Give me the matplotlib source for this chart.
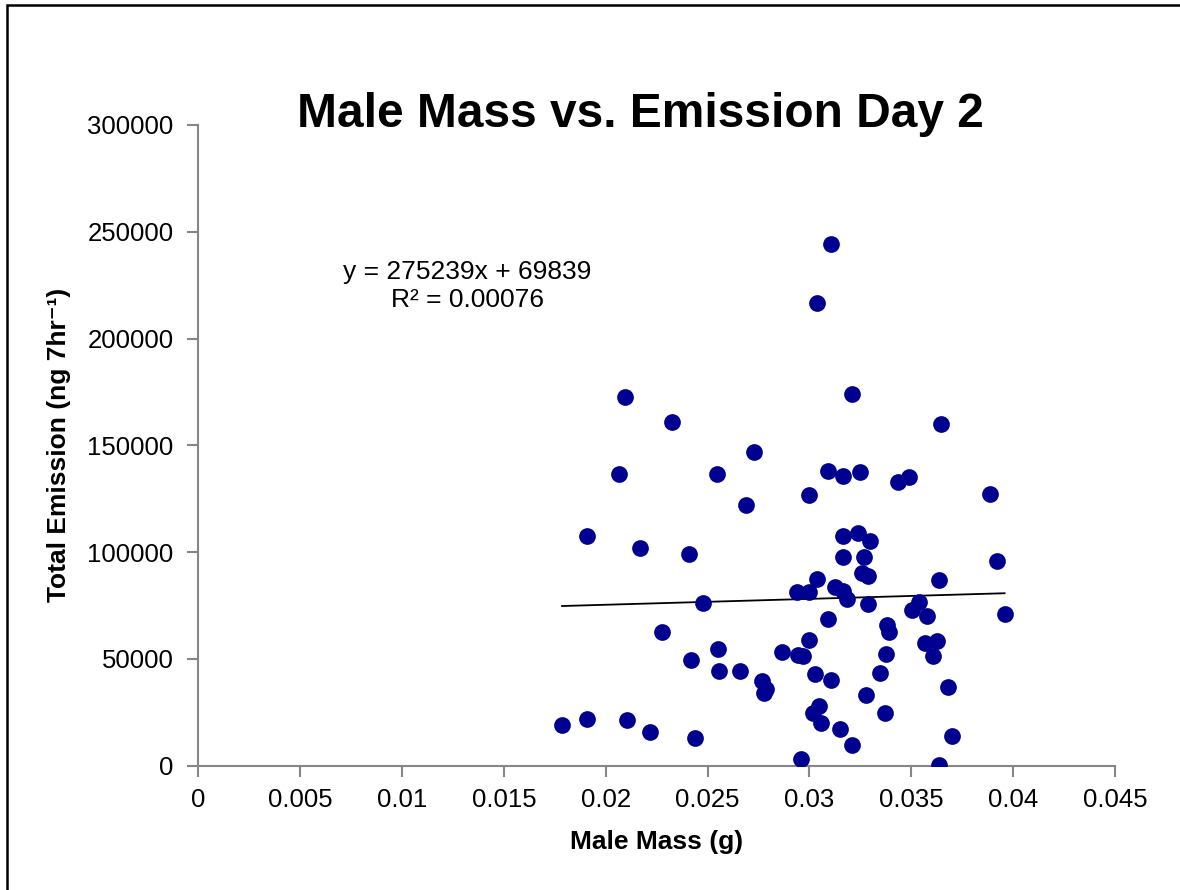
import matplotlib
matplotlib.use('Agg')
import matplotlib.pyplot as plt
from matplotlib.patches import Rectangle
import numpy as np

# Male mass (g) and total emission (ng 7hr-1)
male_mass = [
    0.01785, 0.01907, 0.01907, 0.02096, 0.02066, 0.02105, 0.02168, 0.02215,
    0.02277, 0.02325, 0.02407, 0.02417, 0.02438, 0.02476, 0.02547, 0.02549,
    0.02557, 0.02657, 0.02687, 0.02727, 0.02768, 0.02777, 0.02785, 0.02866,
    0.02937, 0.02945, 0.02957, 0.02970, 0.02998, 0.02998, 0.02999, 0.03016,
    0.03025, 0.03038, 0.03038, 0.03048, 0.03058, 0.03089, 0.03089, 0.03107,
    0.03107, 0.03124, 0.03148, 0.03166, 0.03166, 0.03166, 0.03166, 0.03186,
    0.03209, 0.03209, 0.03240, 0.03248, 0.03256, 0.03268, 0.03277, 0.03287,
    0.03289, 0.03295, 0.03346, 0.03369, 0.03377, 0.03379, 0.03389, 0.03436,
    0.03489, 0.03505, 0.03538, 0.03567, 0.03578, 0.03606, 0.03627, 0.03637,
    0.03637, 0.03647, 0.03679, 0.03698, 0.03886, 0.03919, 0.03958,
]
total_emission = [
    18900, 21850, 107700, 172800, 136700, 21400, 102100, 15800,
    62500, 161100, 99100, 49400, 12800, 76000, 136400, 54800,
    44200, 44200, 122100, 146700, 39700, 33900, 35800, 53200,
    81300, 52000, 3000, 51400, 126900, 59000, 81300, 24800,
    42800, 87600, 216800, 27950, 19850, 138000, 68800, 40000,
    244400, 83800, 17300, 135800, 107700, 97600, 81900, 77900,
    174000, 9550, 109100, 137400, 90100, 97600, 33000, 75700,
    88800, 105100, 43600, 24500, 52200, 65900, 62750, 132700,
    135300, 72750, 76650, 57600, 69950, 51400, 58400, 87100,
    200, 160000, 36900, 14050, 127400, 95800, 70900,
]

# trendline as printed on the chart
slope = 275239
intercept = 69839
r_squared = '0.00076'

x_ticks = [0, 0.005, 0.01, 0.015, 0.02, 0.025, 0.03, 0.035, 0.04, 0.045]
x_tick_labels = ['0', '0.005', '0.01', '0.015', '0.02', '0.025', '0.03', '0.035', '0.04', '0.045']
y_ticks = [0, 50000, 100000, 150000, 200000, 250000, 300000]

plt.rcParams['font.family'] = ['Liberation Sans', 'DejaVu Sans']

fig = plt.figure(figsize=(11.8, 8.9), dpi=100)
ax = fig.add_axes([0.1682, 0.1397, 0.7767, 0.7199])

ax.scatter(male_mass, total_emission, s=145, color='#000090', zorder=3, linewidths=0)

# trendline over the range of the data
xs = np.array([min(male_mass), max(male_mass)])
ax.plot(xs, slope * xs + intercept, color='black', linewidth=1.3, zorder=2)

ax.set_xlim(0, 0.045)
ax.set_ylim(0, 300000)
ax.set_xticks(x_ticks)
ax.set_xticklabels(x_tick_labels)
ax.set_yticks(y_ticks)
ax.set_yticklabels([str(v) for v in y_ticks])

for side in ['top', 'right']:
    ax.spines[side].set_visible(False)
for side in ['left', 'bottom']:
    ax.spines[side].set_color('#868686')
    ax.spines[side].set_linewidth(1.5)
ax.tick_params(axis='both', colors='#868686', length=8, width=1.5, labelsize=18.5,
               labelcolor='black', direction='out')
ax.tick_params(axis='x', pad=8)
ax.tick_params(axis='y', pad=10)

ax.set_xlabel('Male Mass (g)', fontsize=19, fontweight='bold', labelpad=13)
ax.set_ylabel('Total Emission (ng 7hr⁻¹)', fontsize=19, fontweight='bold', labelpad=12)

fig.text(0.5424, 0.871, 'Male Mass vs. Emission Day 2', fontsize=34.5, fontweight='bold',
         ha='center', va='center')

ax.text(0.0132, 224600, f'y = {slope}x + {intercept}\nR² = {r_squared}',
        fontsize=19, ha='center', va='center', linespacing=1.25)

# chart border (left and top edges visible)
fig.patches.append(Rectangle((7 / 1180, -0.1), 1.2, 1 - 5 / 890 + 0.1, transform=fig.transFigure,
                             fill=False, edgecolor='black', linewidth=1.8))

fig.savefig('out.png', dpi=100)
